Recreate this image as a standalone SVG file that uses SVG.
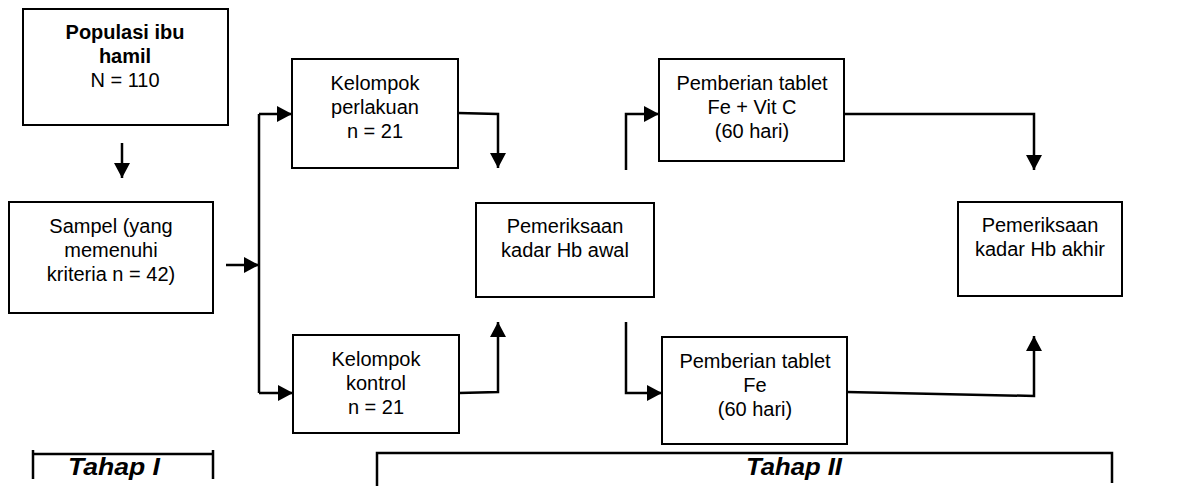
<svg xmlns="http://www.w3.org/2000/svg" width="1178" height="486" viewBox="0 0 1178 486">
<style>
.box{fill:#fff;stroke:#000;stroke-width:2}
.t{font-family:"Liberation Sans",Arial,sans-serif;font-size:20px;fill:#000;text-anchor:middle}
.b{font-weight:bold}
.ln{fill:none;stroke:#000;stroke-width:2.5}
.hd{font-family:"Liberation Sans",Arial,sans-serif;font-size:24px;font-weight:bold;font-style:italic;fill:#000}
</style>
<defs>
<marker id="ah" markerUnits="userSpaceOnUse" markerWidth="15" markerHeight="16" refX="15" refY="8" orient="auto">
<path d="M0,0 L15,8 L0,16 z" fill="#000"/>
</marker>
</defs>
<rect width="1178" height="486" fill="#fff"/>
<g id="connectors" class="ln">
<path d="M122,143 V178" marker-end="url(#ah)"/>
<path d="M226,265 H259" marker-end="url(#ah)"/>
<path d="M259,114 V393"/>
<path d="M259,114 H292" marker-end="url(#ah)"/>
<path d="M259,393 H293" marker-end="url(#ah)"/>
<path d="M458,113 L498,114 V168" marker-end="url(#ah)"/>
<path d="M459,393 L498,392 V322" marker-end="url(#ah)"/>
<path d="M626,170 V114 H659" marker-end="url(#ah)"/>
<path d="M626,322 V393 H662" marker-end="url(#ah)"/>
<path d="M844,114 H1034 V170" marker-end="url(#ah)"/>
<path d="M847,392 L1034,396 V336" marker-end="url(#ah)"/>
</g>
<g id="populasi">
<rect class="box" x="23" y="9" width="205" height="116"/>
<text class="t b" x="125" y="39">Populasi ibu</text>
<text class="t b" x="125" y="63">hamil</text>
<text class="t" x="125" y="87">N = 110</text>
</g>
<g id="sampel">
<rect class="box" x="9" y="202" width="204" height="111"/>
<text class="t" x="111" y="233">Sampel (yang</text>
<text class="t" x="111" y="257">memenuhi</text>
<text class="t" x="111" y="281">kriteria n = 42)</text>
</g>
<g id="perlakuan">
<rect class="box" x="292" y="59" width="166" height="109"/>
<text class="t" x="375" y="90">Kelompok</text>
<text class="t" x="375" y="114">perlakuan</text>
<text class="t" x="375" y="138">n = 21</text>
</g>
<g id="kontrol">
<rect class="box" x="293" y="335" width="166" height="98"/>
<text class="t" x="376" y="366">Kelompok</text>
<text class="t" x="376" y="390">kontrol</text>
<text class="t" x="376" y="414">n = 21</text>
</g>
<g id="hb-awal">
<rect class="box" x="476" y="203" width="178" height="94"/>
<text class="t" x="565" y="233">Pemeriksaan</text>
<text class="t" x="565" y="257">kadar Hb awal</text>
</g>
<g id="fe-vitc">
<rect class="box" x="659" y="59" width="185" height="102"/>
<text class="t" x="752" y="90">Pemberian tablet</text>
<text class="t" x="752" y="114">Fe + Vit C</text>
<text class="t" x="752" y="138">(60 hari)</text>
</g>
<g id="fe">
<rect class="box" x="662" y="337" width="185" height="107"/>
<text class="t" x="755" y="368">Pemberian tablet</text>
<text class="t" x="755" y="392">Fe</text>
<text class="t" x="755" y="416">(60 hari)</text>
</g>
<g id="hb-akhir">
<rect class="box" x="958" y="202" width="164" height="94"/>
<text class="t" x="1040" y="232">Pemeriksaan</text>
<text class="t" x="1040" y="256">kadar Hb akhir</text>
</g>
<g id="tahap1">
<path class="ln" d="M33,450 V479 M33,454 H213 M213,450 V479"/>
<text class="hd" x="68" y="475" textLength="92" lengthAdjust="spacingAndGlyphs">Tahap I</text>
</g>
<g id="tahap2">
<path class="ln" d="M377,486 V453 H1112 V483"/>
<text class="hd" x="746" y="475" textLength="96" lengthAdjust="spacingAndGlyphs">Tahap II</text>
</g>
</svg>
